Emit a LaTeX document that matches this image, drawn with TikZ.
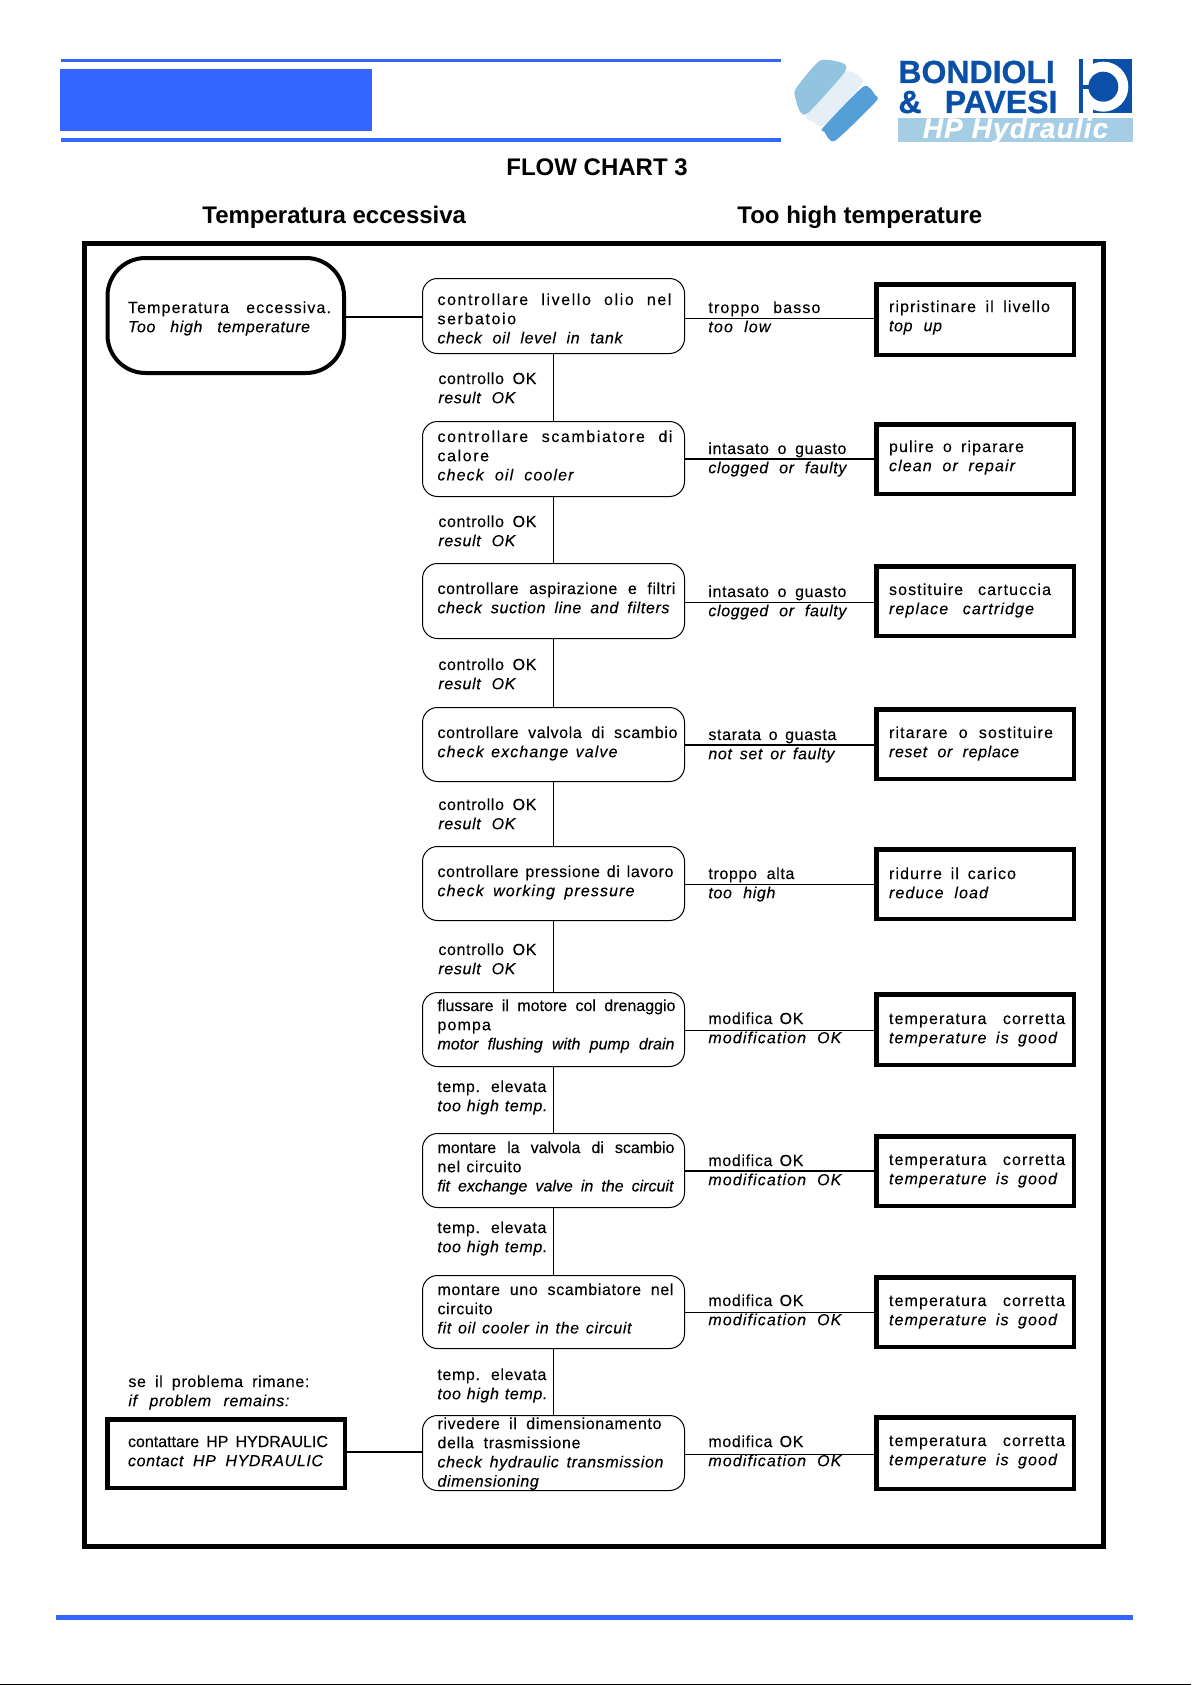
\documentclass[tikz,border=0pt]{standalone}
\usepackage{fontspec}
\setmainfont[LetterSpace=4,FakeBold=0.15]{Liberation Sans}
\newfontfamily\fwide[LetterSpace=10,FakeBold=0.15]{Liberation Sans}
\newfontfamily\fmid[LetterSpace=7,FakeBold=0.15]{Liberation Sans}
\newfontfamily\ftight[LetterSpace=0,FakeBold=0.15]{Liberation Sans}
\newfontfamily\fhead[LetterSpace=0]{Liberation Sans}
\newfontfamily\flogo[LetterSpace=0,FakeBold=0.8]{Liberation Sans}
\newfontfamily\fband[LetterSpace=4,FakeBold=0.5]{Liberation Sans}
\definecolor{hpblue}{HTML}{3366FF}
\definecolor{logoblue}{HTML}{0B50A8}
\definecolor{bandblue}{HTML}{A5CDE4}
\definecolor{swashA}{HTML}{93C4DF}
\definecolor{swashB}{HTML}{E6EEF6}
\definecolor{swashC}{HTML}{559FD9}
\tikzset{
  chkbox/.style={draw=black,line width=.5pt,rounded corners=7.5pt,inner sep=0pt,rectangle},
  resbox/.style={draw=black,line width=2.25pt,inner sep=0pt,rectangle},
  startbox/.style={draw=black,line width=2pt,rounded corners=19pt,inner sep=0pt,rectangle},
  lbl/.style={inner sep=0pt,anchor=base west,font=\fontsize{8}{9.6}\selectfont},
  head/.style={inner sep=0pt,anchor=base west,font=\fhead\bfseries\fontsize{12}{14}\selectfont},
  thinln/.style={line width=.5pt},
  midln/.style={line width=.85pt},
  thickln/.style={line width=1pt},
  logotxt/.style={inner sep=0pt,anchor=base west,text=logoblue,font=\flogo\bfseries\fontsize{16}{18}\selectfont}
}
\newcommand\txr[2]{\hbox to\dimexpr#1pt/2\relax{#2}}
\newcommand\txi[2]{\hbox to\dimexpr#1pt/2\relax{\itshape #2}}
\newcommand\blk[1]{\vtop{\baselineskip=9.6pt\lineskiplimit=-\maxdimen #1}}
\newcommand\inblk[3]{\smash{\rlap{\hskip\dimexpr#1pt/2\relax\lower\dimexpr#2pt/2\relax\blk{#3}}}}
% style, name, left, top, right, bottom, text x, first baseline, lines
\newcommand\placebox[9]{%
  \pgfmathsetmacro\cxx{(#3+#5)/2}%
  \pgfmathsetmacro\cyy{(#4+#6)/2}%
  \pgfmathsetmacro\wid{#5-#3-\boxlw}%
  \pgfmathsetmacro\hei{#6-#4-\boxlw}%
  \pgfmathsetmacro\dxx{#7-\cxx}%
  \pgfmathsetmacro\dyy{#8-\cyy}%
  \node[#1,font=\fontsize{8}{9.6}\selectfont,minimum width=\wid*0.5pt,minimum height=\hei*0.5pt] (#2) at (\cxx,\cyy) {\inblk{\dxx}{\dyy}{#9}};%
}
\newcommand\chk[5]{\def\boxlw{1}\placebox{chkbox}{#1}{422}{#2}{685}{#3}{437.5}{#4}{#5}}
\newcommand\res[5]{\def\boxlw{4.5}\placebox{resbox}{#1}{874}{#2}{1076}{#3}{889}{#4}{#5}}
\newcommand\lab[4]{\node[lbl] (#1) at (#2,#3) {\blk{#4}};}
\newcommand\rowline[5]{\coordinate (#1) at (0,#2); \draw[#3] (#4 |- #1) -- (#5 |- #1);}
\begin{document}
\begin{tikzpicture}[x=0.5pt,y=-0.5pt]
\useasboundingbox (0,0) rectangle (1191,1685);
\fill[white] (0,0) rectangle (1191,1685);
% header rules and panel
\fill[hpblue] (61,59) rectangle (781,62);
\fill[hpblue] (60,69) rectangle (372,131);
\fill[hpblue] (61,138) rectangle (781,142);
\fill[hpblue] (56,1615) rectangle (1133,1620);
\fill[black] (0,1684) rectangle (1191,1685);
% logo swash
\begin{scope}[shift={(785,50)},x=0.16667pt,y=-0.16667pt]
\fill[swashB] plot[smooth cycle,tension=.4] coordinates {(178,68) (225,80) (228,105) (118,225) (85,215) (65,195)};
\fill[swashA] plot[smooth cycle,tension=.4] coordinates {(105,32) (175,40) (178,68) (70,188) (45,185) (30,140) (33,115)};
\fill[swashC] plot[smooth cycle,tension=.4] coordinates {(235,110) (270,135) (272,155) (150,272) (118,245) (115,232)};
\end{scope}
% logo words
\node[logotxt] (bond) at (898,83) {\hbox to 79.5pt{BONDIOLI}};
\node[logotxt] (pav) at (898,113) {\hbox to 79.5pt{\&\hfil PAVESI}};
\node[fill=bandblue,inner sep=0pt,minimum width=117.5pt,minimum height=12pt,text=white,font=\fband\bfseries\itshape\fontsize{14}{16}\selectfont] (band) at (1015.5,130) {\smash{\lower4pt\hbox{HP Hydraulic}}};
% logo symbol
\fill[logoblue] (1092.7,59.3) rectangle (1132.3,113.3);
\fill[white] (1103.3,86.7) circle[radius=12.5pt];
\fill[logoblue] (1103.3,86.7) circle[radius=7.5pt];
\fill[logoblue] (1079.3,59.3) rectangle (1083.3,113.3);
\fill[logoblue] (1083,84.7) rectangle (1103,88.7);
% titles
\node[head] (fc) at (506,176) {FLOW CHART 3};
\node[head] (tit) at (202,224) {Temperatura eccessiva};
\node[head] (too) at (737,224) {Too high temperature};
% frame
\draw[line width=2.3pt] (84.3,243.3) rectangle (1103.7,1546.7);
% start box
\def\boxlw{4}
\placebox{startbox}{st}{105.5}{256}{346}{375}{128}{313}{\txr{203}{\fmid Temperatura eccessiva.}\txi{182}{Too high temperature}}
% check boxes
\chk{c1}{278}{354}{305}{\txr{234}{\fwide controllare livello olio nel}\txr{81}{\fwide serbatoio}\txi{185}{check oil level in tank}}
\chk{c2}{421}{497}{442}{\txr{235}{\fwide controllare scambiatore di}\txr{55}{\fwide calore}\txi{136}{\fmid check oil cooler}}
\chk{c3}{563}{639}{594}{\txr{238}{controllare aspirazione e filtri}\txi{232}{check suction line and filters}}
\chk{c4}{707}{782}{738}{\txr{240}{controllare valvola di scambio}\txi{180}{\fmid check exchange valve}}
\chk{c5}{846}{921}{877}{\txr{236}{controllare pressione di lavoro}\txi{197}{\fmid check working pressure}}
\chk{c6}{992}{1067}{1011}{\txr{238}{\ftight flussare il motore col drenaggio}\txr{56}{\fmid pompa}\txi{237}{\ftight motor flushing with pump drain}}
\chk{c7}{1133}{1208}{1153}{\txr{237}{\ftight montare la valvola di scambio}\txr{84}{nel circuito}\txi{236}{\ftight fit exchange valve in the circuit}}
\chk{c8}{1275}{1349}{1295}{\txr{236}{montare uno scambiatore nel}\txr{56}{circuito}\txi{194}{fit oil cooler in the circuit}}
\chk{c9}{1415}{1491}{1429}{\txr{224}{rivedere il dimensionamento}\txr{143}{della trasmissione}\txi{226}{check hydraulic transmission}\txi{106}{dimensioning}}
% result boxes
\res{r1}{282}{357}{312}{\txr{161}{\fmid ripristinare il livello}\txi{53}{top up}}
\res{r2}{422}{496}{452}{\txr{135}{\fmid pulire o riparare}\txi{126}{\fmid clean or repair}}
\res{r3}{564}{638}{595}{\txr{162}{\fmid sostituire cartuccia}\txi{145}{\fmid replace cartridge}}
\res{r4}{707}{781}{738}{\txr{164}{\fmid ritarare o sostituire}\txi{130}{reset or replace}}
\res{r5}{847}{921}{879}{\txr{127}{\fmid ridurre il carico}\txi{99}{\fmid reduce load}}
\res{r6}{992}{1067}{1024}{\txr{176}{\fmid temperatura corretta}\txi{168}{\fmid temperature is good}}
\res{r7}{1134}{1208}{1165}{\txr{176}{\fmid temperatura corretta}\txi{168}{\fmid temperature is good}}
\res{r8}{1275}{1349}{1306}{\txr{176}{\fmid temperatura corretta}\txi{168}{\fmid temperature is good}}
\res{r9}{1415}{1491}{1446}{\txr{176}{\fmid temperatura corretta}\txi{168}{\fmid temperature is good}}
% contact box
\def\boxlw{4.5}
\placebox{resbox}{hp}{105}{1417}{347}{1490}{128}{1447}{\txr{200}{\ftight contattare HP HYDRAULIC}\txi{195}{contact HP HYDRAULIC}}
% labels down the centre
\lab{d1}{438}{384}{\txr{98}{controllo OK}\txi{77}{result OK}}
\lab{d2}{438}{527}{\txr{98}{controllo OK}\txi{77}{result OK}}
\lab{d3}{438}{670}{\txr{98}{controllo OK}\txi{77}{result OK}}
\lab{d4}{438}{810}{\txr{98}{controllo OK}\txi{77}{result OK}}
\lab{d5}{438}{955}{\txr{98}{controllo OK}\txi{77}{result OK}}
\lab{d6}{437}{1092}{\txr{109}{temp. elevata}\txi{110}{too high temp.}}
\lab{d7}{437}{1233}{\txr{109}{temp. elevata}\txi{110}{too high temp.}}
\lab{d8}{437}{1380}{\txr{109}{temp. elevata}\txi{110}{too high temp.}}
% labels along the right connectors
\lab{e1}{708}{313}{\txr{112}{\fmid troppo basso}\txi{62}{\fmid too low}}
\lab{e2}{708}{454}{\txr{138}{intasato o guasto}\txi{138}{clogged or faulty}}
\lab{e3}{708}{597}{\txr{138}{intasato o guasto}\txi{138}{clogged or faulty}}
\lab{e4}{708}{740}{\txr{128}{starata o guasta}\txi{126}{not set or faulty}}
\lab{e5}{708}{879}{\txr{86}{troppo alta}\txi{67}{too high}}
\lab{e6}{708}{1024}{\txr{95}{modifica OK}\txi{133}{\fmid modification OK}}
\lab{e7}{708}{1166}{\txr{95}{modifica OK}\txi{133}{\fmid modification OK}}
\lab{e8}{708}{1306}{\txr{95}{modifica OK}\txi{133}{\fmid modification OK}}
\lab{e9}{708}{1447}{\txr{95}{modifica OK}\txi{133}{\fmid modification OK}}
\lab{rem}{128}{1387}{\txr{181}{se il problema rimane:}\txi{161}{if problem remains:}}
% vertical connectors
\draw[thinln] (c1) -- (c2);
\draw[midln] (c2) -- (c3);
\draw[midln] (c3) -- (c4);
\draw[midln] (c4) -- (c5);
\draw[midln] (c5) -- (c6);
\draw[midln] (c6) -- (c7);
\draw[midln] (c7) -- (c8);
\draw[midln] (c8) -- (c9);
% horizontal connectors
\rowline{l0}{317}{midln}{st.east}{c1.west}
\rowline{l1}{318}{thinln}{c1.east}{r1.west}
\rowline{l2}{459}{thickln}{c2.east}{r2.west}
\rowline{l3}{602}{thinln}{c3.east}{r3.west}
\rowline{l4}{745}{thickln}{c4.east}{r4.west}
\rowline{l5}{884}{thinln}{c5.east}{r5.west}
\rowline{l6}{1030}{thinln}{c6.east}{r6.west}
\rowline{l7}{1171}{thickln}{c7.east}{r7.west}
\rowline{l8}{1312}{thinln}{c8.east}{r8.west}
\rowline{l9}{1454}{thinln}{c9.east}{r9.west}
\rowline{l10}{1452}{midln}{hp.east}{c9.west}
\end{tikzpicture}
\end{document}
